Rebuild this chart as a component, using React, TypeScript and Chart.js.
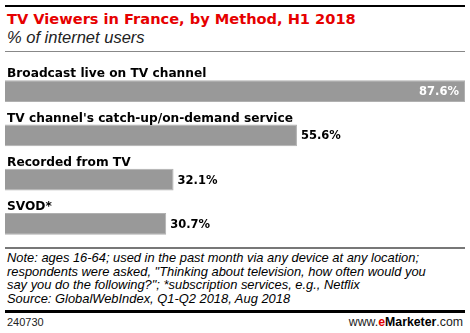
import React, { useEffect, useRef } from "react";
import { Chart, registerables } from "chart.js";

Chart.register(...registerables);

const categories = [
  "Broadcast live on TV channel",
  "TV channel's catch-up/on-demand service",
  "Recorded from TV",
  "SVOD*",
];
const values = [87.6, 55.6, 32.1, 30.7];
const valueLabels = ["87.6%", "55.6%", "32.1%", "30.7%"];

const title = "TV Viewers in France, by Method, H1 2018";
const subtitle = "% of internet users";
const noteLines = [
  "Note: ages 16-64; used in the past month via any device at any location;",
  "respondents were asked, \"Thinking about television, how often would you",
  "say you do the following?\"; *subscription services, e.g., Netflix",
  "Source: GlobalWebIndex, Q1-Q2 2018, Aug 2018",
];
const chartId = "240730";

const BOLD = "'DejaVu Sans', Verdana, sans-serif";
const PLAIN = "'Liberation Sans', Arial, sans-serif";

const labelPlugin = {
  id: "barLabels",
  afterDatasetsDraw(chart: any) {
    const ctx = chart.ctx;
    const meta = chart.getDatasetMeta(0);
    ctx.save();
    meta.data.forEach((bar: any, i: number) => {
      const h = bar.height;
      const top = bar.y - h / 2;
      ctx.font = `bold 12.2px ${BOLD}`;
      ctx.fillStyle = "#000";
      ctx.textAlign = "left";
      ctx.textBaseline = "alphabetic";
      ctx.fillText(categories[i], chart.chartArea.left + 2, top - 3);
      ctx.font = `bold 11.5px ${BOLD}`;
      ctx.textBaseline = "middle";
      if (i === 0) {
        ctx.fillStyle = "#fff";
        ctx.textAlign = "right";
        ctx.fillText(valueLabels[i], bar.x - 6, bar.y + 1);
      } else {
        ctx.fillStyle = "#000";
        ctx.textAlign = "left";
        ctx.fillText(valueLabels[i], bar.x + 4, bar.y + 1);
      }
    });
    ctx.restore();
  },
};

export default function App() {
  const ref = useRef<HTMLCanvasElement>(null);
  useEffect(() => {
    if (!ref.current) return;
    const chart = new Chart(ref.current, {
      type: "bar",
      data: {
        labels: categories,
        datasets: [
          {
            data: values,
            backgroundColor: "#999999",
            borderColor: "#b0b0b0",
            borderWidth: 1,
            barPercentage: 0.98,
            categoryPercentage: 0.5,
          },
        ],
      },
      options: {
        indexAxis: "y",
        animation: false,
        responsive: false,
        maintainAspectRatio: false,
        layout: { padding: { left: 5, right: 5, top: 14, bottom: 1 } },
        plugins: { legend: { display: false }, tooltip: { enabled: false } },
        scales: {
          x: { display: false, min: 0, max: Math.max(...values) },
          y: { display: false },
        },
      },
      plugins: [labelPlugin],
    });
    return () => chart.destroy();
  }, []);

  return (
    <div
      style={{
        position: "fixed",
        left: 0,
        top: 0,
        width: 470,
        height: 333,
        background: "#fff",
        overflow: "hidden",
      }}
    >
      <div style={{ position: "absolute", left: 5, top: 5, width: 460, height: 2, background: "#000" }} />
      <div
        style={{
          position: "absolute",
          left: 7,
          top: 10,
          font: `bold 14.6px ${BOLD}`,
          color: "#e60000",
          whiteSpace: "nowrap",
          lineHeight: "18px",
        }}
      >
        {title}
      </div>
      <div
        style={{
          position: "absolute",
          left: 7,
          top: 28,
          font: `italic 16.5px ${PLAIN}`,
          color: "#222",
          whiteSpace: "nowrap",
          lineHeight: "19px",
        }}
      >
        {subtitle}
      </div>
      <div style={{ position: "absolute", left: 5, top: 51, width: 460, height: 1, background: "#888" }} />
      <canvas
        ref={ref}
        width={470}
        height={192}
        style={{ position: "absolute", left: 0, top: 55, width: 470, height: 192 }}
      />
      <div style={{ position: "absolute", left: 5, top: 247, width: 460, height: 2, background: "#777" }} />
      <div
        style={{
          position: "absolute",
          left: 7,
          top: 251,
          font: `italic 12.9px ${PLAIN}`,
          color: "#000",
          whiteSpace: "nowrap",
          lineHeight: "13.7px",
        }}
      >
        {noteLines.map((l, i) => (
          <div key={i}>{l}</div>
        ))}
      </div>
      <div style={{ position: "absolute", left: 5, top: 310, width: 460, height: 2.5, background: "#000" }} />
      <div
        style={{
          position: "absolute",
          left: 7,
          top: 316,
          font: `11px ${PLAIN}`,
          color: "#222",
          lineHeight: "13px",
        }}
      >
        {chartId}
      </div>
      <div
        style={{
          position: "absolute",
          right: 7,
          top: 316,
          font: `12.3px ${PLAIN}`,
          color: "#222",
          lineHeight: "13px",
          whiteSpace: "nowrap",
        }}
      >
        www.<span style={{ color: "#e00000", fontWeight: "bold" }}>e</span>
        <span style={{ fontWeight: "bold", color: "#000" }}>Marketer</span>.com
      </div>
    </div>
  );
}
